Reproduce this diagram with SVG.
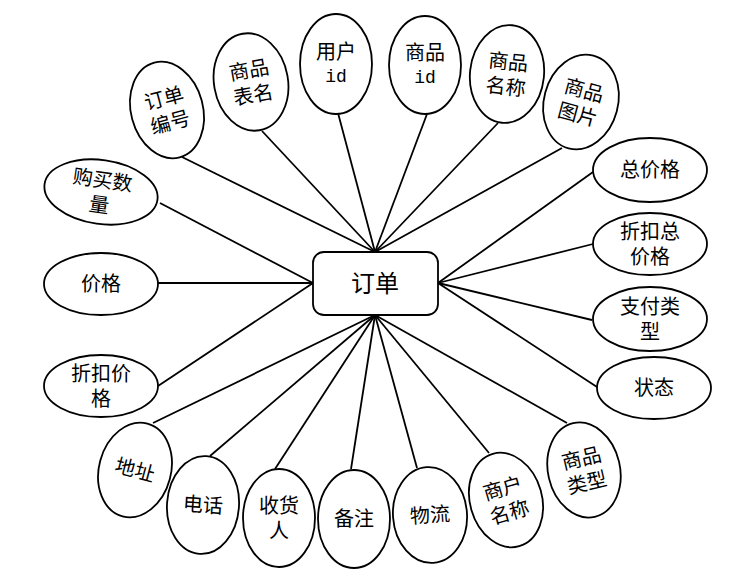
<svg xmlns="http://www.w3.org/2000/svg" width="754" height="584" viewBox="0 0 754 584">
<style>
.e{fill:#fff;stroke:#000;stroke-width:1.8}
.c{stroke:#000;stroke-width:1.8;fill:none}
text{font-family:"Liberation Serif","Noto Sans CJK SC",serif;font-size:20px;fill:#000;text-anchor:middle;dominant-baseline:central}
.t{font-size:24px}
.m{font-family:"Liberation Mono",monospace;font-size:18px}
</style>
<rect width="754" height="584" fill="#fff"/>
<g id="connectors" class="c">
<line x1="182" y1="157" x2="375" y2="252"/>
<line x1="262" y1="131" x2="375" y2="252"/>
<line x1="338" y1="113" x2="375" y2="252"/>
<line x1="427" y1="114" x2="375" y2="252"/>
<line x1="498" y1="123" x2="375" y2="252"/>
<line x1="562" y1="148" x2="375" y2="252"/>
<line x1="160" y1="203" x2="313" y2="283"/>
<line x1="158" y1="283" x2="313" y2="283"/>
<line x1="158" y1="386" x2="313" y2="283"/>
<line x1="593" y1="172" x2="438" y2="283"/>
<line x1="593" y1="244" x2="438" y2="283"/>
<line x1="592" y1="320" x2="438" y2="283"/>
<line x1="597" y1="387" x2="438" y2="283"/>
<line x1="153" y1="423" x2="375" y2="315"/>
<line x1="210" y1="456" x2="375" y2="315"/>
<line x1="275" y1="469" x2="375" y2="315"/>
<line x1="351" y1="469" x2="375" y2="315"/>
<line x1="417" y1="468" x2="375" y2="315"/>
<line x1="489" y1="453" x2="375" y2="315"/>
<line x1="567" y1="423" x2="375" y2="315"/>
</g>
<g id="order">
<rect x="313" y="252" width="125" height="63" rx="11" class="e"/>
<text x="375" y="284" class="t">订单</text>
</g>
<g id="orderNo" transform="translate(167,110) rotate(-15)">
<ellipse rx="36" ry="49" class="e"/><text y="-12">订单</text><text y="13">编号</text>
</g>
<g id="productTable" transform="translate(251,82) rotate(-10)">
<ellipse rx="37" ry="49" class="e"/><text y="-12">商品</text><text y="13">表名</text>
</g>
<g id="userId" transform="translate(336,64)">
<ellipse rx="36" ry="50" class="e"/><text y="-12">用户</text><text y="13" class="m">id</text>
</g>
<g id="productId" transform="translate(425,65)">
<ellipse rx="36" ry="49" class="e"/><text y="-12">商品</text><text y="13" class="m">id</text>
</g>
<g id="productName" transform="translate(507,74) rotate(6)">
<ellipse rx="37" ry="49" class="e"/><text y="-12">商品</text><text y="13">名称</text>
</g>
<g id="productImage" transform="translate(581,102) rotate(15)">
<ellipse rx="37" ry="48" class="e"/><text y="-12">商品</text><text y="13">图片</text>
</g>
<g id="quantity" transform="translate(101,192) rotate(8)">
<ellipse rx="57" ry="32" class="e"/><text y="-12">购买数</text><text y="13">量</text>
</g>
<g id="price" transform="translate(101,284)">
<ellipse rx="57" ry="31" class="e"/><text>价格</text>
</g>
<g id="discountPrice" transform="translate(101,386)">
<ellipse rx="57" ry="31" class="e"/><text y="-12">折扣价</text><text y="13">格</text>
</g>
<g id="totalPrice" transform="translate(650,170)">
<ellipse rx="57" ry="32" class="e"/><text>总价格</text>
</g>
<g id="discountTotal" transform="translate(650,244)">
<ellipse rx="57" ry="31" class="e"/><text y="-12">折扣总</text><text y="13">价格</text>
</g>
<g id="payType" transform="translate(650,319)">
<ellipse rx="57" ry="32" class="e"/><text y="-12">支付类</text><text y="13">型</text>
</g>
<g id="status" transform="translate(654,388)">
<ellipse rx="57" ry="31" class="e"/><text>状态</text>
</g>
<g id="address" transform="translate(135,470) rotate(15)">
<ellipse rx="36" ry="48" class="e"/><text>地址</text>
</g>
<g id="phone" transform="translate(203,505) rotate(4)">
<ellipse rx="36" ry="49" class="e"/><text>电话</text>
</g>
<g id="receiver" transform="translate(279,518)">
<ellipse rx="36" ry="49" class="e"/><text y="-12">收货</text><text y="13">人</text>
</g>
<g id="remark" transform="translate(354,519)">
<ellipse rx="36" ry="49" class="e"/><text>备注</text>
</g>
<g id="logistics" transform="translate(430,515) rotate(-4)">
<ellipse rx="37" ry="48" class="e"/><text>物流</text>
</g>
<g id="merchantName" transform="translate(506,500) rotate(-16)">
<ellipse rx="36" ry="48" class="e"/><text y="-12">商户</text><text y="13">名称</text>
</g>
<g id="productType" transform="translate(584,470) rotate(-13)">
<ellipse rx="36" ry="48" class="e"/><text y="-12">商品</text><text y="13">类型</text>
</g>
</svg>
